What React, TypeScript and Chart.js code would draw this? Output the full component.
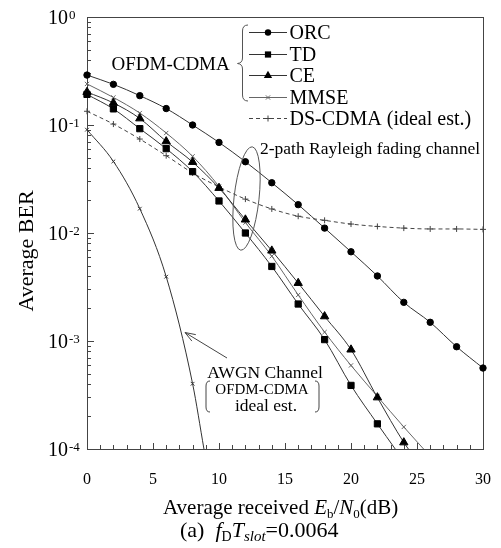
import React, { useEffect, useRef } from "react";
import { Chart, registerables } from "chart.js";

Chart.register(...registerables);

const SERIF = '"Liberation Serif", "Times New Roman", serif';

// ---- data (Eb/N0 in dB, BER) ----
const snrORC = [0, 2, 4, 6, 8, 10, 12, 14, 16, 18, 20, 22, 24, 26, 28, 30];
const berORC = [0.29, 0.238, 0.187, 0.142, 0.1, 0.069, 0.0457, 0.0292, 0.0183, 0.0111, 0.0067, 0.004, 0.00228, 0.00149, 0.000885, 0.000562];

const snrTD = [0, 2, 4, 6, 8, 10, 12, 14, 16, 18, 20, 22, 23.35];
const berTD = [0.192, 0.141, 0.0925, 0.0604, 0.037, 0.0198, 0.01, 0.0049, 0.0022, 0.00103, 0.000388, 0.000171, 0.0001];

const snrCE = [0, 2, 4, 6, 8, 10, 12, 14, 16, 18, 20, 22, 24, 24.35];
const berCE = [0.202, 0.16, 0.115, 0.0705, 0.0454, 0.0261, 0.0133, 0.00686, 0.00344, 0.00169, 0.000832, 0.0003, 0.000115, 0.0001];

const snrMMSE = [0, 2, 4, 6, 8, 10, 12, 14, 16, 18, 20, 22, 24, 25.5];
const berMMSE = [0.24, 0.18, 0.129, 0.0843, 0.0513, 0.027, 0.0125, 0.0061, 0.00267, 0.00121, 0.000594, 0.000307, 0.00016, 0.0001];

const snrDS = [0, 2, 4, 6, 8, 10, 12, 14, 16, 18, 20, 22, 24, 26, 28, 30];
const berDS = [0.134, 0.102, 0.0741, 0.052, 0.036, 0.0267, 0.0206, 0.0167, 0.0143, 0.0131, 0.0121, 0.0115, 0.0111, 0.0109, 0.0109, 0.0108];

const snrAWGN = [0, 2, 4, 6, 8, 8.86];
const berAWGN = [0.0905, 0.046, 0.0168, 0.00394, 0.000402, 0.0001];

const seriesLabels = ["ORC", "TD", "CE", "MMSE", "DS-CDMA (ideal est.)"];
const xTickLabels = [0, 5, 10, 15, 20, 25, 30];
const yDecades = [0, -1, -2, -3, -4];

const X_MIN = 0;
const X_MAX = 30;
const Y_MIN = 1e-4;
const Y_MAX = 1;

function pts(xs: number[], ys: number[]) {
  return xs.map((x, i) => ({ x, y: ys[i] }));
}

function drawMarker(ctx: CanvasRenderingContext2D, style: string, x: number, y: number, r: number, color: string) {
  ctx.save();
  ctx.fillStyle = color;
  ctx.strokeStyle = color;
  ctx.lineWidth = 1;
  ctx.beginPath();
  if (style === "circle") {
    ctx.arc(x, y, r, 0, Math.PI * 2);
    ctx.fill();
  } else if (style === "rect") {
    const s = r * Math.SQRT1_2;
    ctx.rect(x - s, y - s, 2 * s, 2 * s);
    ctx.fill();
  } else if (style === "triangle") {
    let a = 0;
    ctx.moveTo(x + Math.sin(a) * r, y - Math.cos(a) * r);
    a += (2 * Math.PI) / 3;
    ctx.lineTo(x + Math.sin(a) * r, y - Math.cos(a) * r);
    a += (2 * Math.PI) / 3;
    ctx.lineTo(x + Math.sin(a) * r, y - Math.cos(a) * r);
    ctx.closePath();
    ctx.fill();
  } else if (style === "crossRot") {
    const d = r * Math.SQRT1_2;
    ctx.moveTo(x - d, y - d);
    ctx.lineTo(x + d, y + d);
    ctx.moveTo(x - d, y + d);
    ctx.lineTo(x + d, y - d);
    ctx.stroke();
  } else if (style === "cross") {
    ctx.moveTo(x - r, y);
    ctx.lineTo(x + r, y);
    ctx.moveTo(x, y - r);
    ctx.lineTo(x, y + r);
    ctx.stroke();
  }
  ctx.restore();
}

type Run = { t: string; s: number; it?: boolean; dy?: number };
function drawRuns(ctx: CanvasRenderingContext2D, runs: Run[], x: number, y: number) {
  let cx = x;
  for (const r of runs) {
    ctx.font = `${r.it ? "italic " : ""}${r.s}px ${SERIF}`;
    ctx.fillText(r.t, cx, y + (r.dy || 0));
    cx += ctx.measureText(r.t).width;
  }
}

const decorPlugin = {
  id: "decor",
  beforeDatasetsDraw(chart: any) {
    const { ctx, chartArea: a, scales } = chart;
    const xs = scales.x;
    const ys = scales.y;
    ctx.save();
    ctx.strokeStyle = "#444";
    ctx.lineWidth = 1;
    ctx.strokeRect(Math.round(a.left) + 0.5, Math.round(a.top) + 0.5, Math.round(a.right - a.left), Math.round(a.bottom - a.top));
    // x ticks (inward)
    ctx.beginPath();
    for (let v = X_MIN; v <= X_MAX; v++) {
      const px = Math.round(xs.getPixelForValue(v)) + 0.5;
      const len = v % 5 === 0 ? 6 : 4;
      ctx.moveTo(px, a.bottom);
      ctx.lineTo(px, a.bottom - len);
    }
    // y ticks (inward)
    for (const d of yDecades) {
      for (let m = 1; m <= 9; m++) {
        const v = m * Math.pow(10, d);
        if (v > Y_MAX + 1e-12 || v < Y_MIN - 1e-12) continue;
        const py = Math.round(ys.getPixelForValue(v)) + 0.5;
        const len = m === 1 ? 7 : 4;
        ctx.moveTo(a.left, py);
        ctx.lineTo(a.left + len, py);
      }
    }
    ctx.stroke();
    ctx.restore();
  },
  afterDatasetsDraw(chart: any) {
    const { ctx, scales } = chart;
    const xs = scales.x;
    const ys = scales.y;
    ctx.save();
    ctx.fillStyle = "#000";
    ctx.textBaseline = "alphabetic";

    // x tick labels
    ctx.font = `16px ${SERIF}`;
    ctx.textAlign = "center";
    for (const v of xTickLabels) {
      ctx.fillText(String(v), xs.getPixelForValue(v), 484);
    }

    // y tick labels 10^d
    ctx.textAlign = "left";
    for (const d of yDecades) {
      const py = ys.getPixelForValue(Math.pow(10, d));
      ctx.font = `20px ${SERIF}`;
      ctx.fillText("10", 48, py + 7);
      const w = ctx.measureText("10").width;
      ctx.font = `13px ${SERIF}`;
      ctx.fillText(d === 0 ? "0" : String(d), 48 + w + 1, py + 1.5);
    }

    // axis titles
    ctx.textAlign = "left";
    drawRuns(ctx, [
      { t: "Average received ", s: 21 },
      { t: "E", s: 21, it: true },
      { t: "b", s: 13, dy: 4 },
      { t: "/", s: 21 },
      { t: "N", s: 21, it: true },
      { t: "0", s: 13, dy: 4 },
      { t: "(dB)", s: 21 },
    ], 163, 513.5);

    drawRuns(ctx, [
      { t: "(a)", s: 22 },
      { t: "  ", s: 22 },
      { t: "f", s: 22, it: true },
      { t: "D", s: 14, dy: 4 },
      { t: "T", s: 22, it: true },
      { t: "slot", s: 15, it: true, dy: 4 },
      { t: "=0.0064", s: 22 },
    ], 180, 537);

    ctx.save();
    ctx.translate(33, 251);
    ctx.rotate(-Math.PI / 2);
    ctx.textAlign = "center";
    ctx.font = `22px ${SERIF}`;
    ctx.fillText("Average BER", 0, 0);
    ctx.restore();

    // legend
    const rows = [32.3, 54.3, 75, 96.7, 118.3];
    chart.data.datasets.slice(0, 5).forEach((ds: any, i: number) => {
      const y = rows[i];
      ctx.save();
      ctx.strokeStyle = ds.borderColor;
      ctx.lineWidth = 1;
      ctx.setLineDash(ds.borderDash || []);
      ctx.beginPath();
      ctx.moveTo(249, Math.round(y) + 0.5);
      ctx.lineTo(287, Math.round(y) + 0.5);
      ctx.stroke();
      ctx.restore();
      drawMarker(ctx, ds.pointStyle, 268, Math.round(y) + 0.5, ds.legendRadius, ds.pointBorderColor);
      ctx.font = `20px ${SERIF}`;
      ctx.textAlign = "left";
      ctx.fillStyle = "#000";
      ctx.fillText(seriesLabels[i], 289.5, y + 6.8);
    });

    // brace for OFDM-CDMA group
    ctx.save();
    ctx.strokeStyle = "#555";
    ctx.lineWidth = 1;
    ctx.beginPath();
    ctx.moveTo(248, 25);
    ctx.quadraticCurveTo(242.5, 25, 242.5, 31);
    ctx.lineTo(242.5, 58);
    ctx.quadraticCurveTo(242.5, 63, 237.5, 63.5);
    ctx.quadraticCurveTo(242.5, 64, 242.5, 69);
    ctx.lineTo(242.5, 95);
    ctx.quadraticCurveTo(242.5, 101, 248, 101);
    ctx.stroke();
    ctx.restore();
    ctx.font = `19px ${SERIF}`;
    ctx.textAlign = "left";
    ctx.fillText("OFDM-CDMA", 111.5, 69.8);

    // Rayleigh annotation
    ctx.font = `17.5px ${SERIF}`;
    ctx.fillText("2-path Rayleigh fading channel", 260, 154);
    ctx.save();
    ctx.strokeStyle = "#555";
    ctx.lineWidth = 1;
    ctx.beginPath();
    ctx.ellipse(246.5, 198.5, 12.5, 52, 0.11, 0, Math.PI * 2);
    ctx.stroke();
    ctx.restore();

    // AWGN annotation
    ctx.font = `17.5px ${SERIF}`;
    ctx.textAlign = "center";
    ctx.fillText("AWGN Channel", 265, 378);
    ctx.font = `15px ${SERIF}`;
    ctx.fillText("OFDM-CDMA", 262, 393.5);
    ctx.font = `17.5px ${SERIF}`;
    ctx.fillText("ideal est.", 266, 411);
    ctx.save();
    ctx.strokeStyle = "#444";
    ctx.lineWidth = 1;
    ctx.beginPath();
    ctx.moveTo(210, 381);
    ctx.quadraticCurveTo(206, 381, 206, 386);
    ctx.lineTo(206, 407);
    ctx.quadraticCurveTo(206, 412, 210, 412);
    ctx.moveTo(315, 381);
    ctx.quadraticCurveTo(319, 381, 319, 386);
    ctx.lineTo(319, 407);
    ctx.quadraticCurveTo(319, 412, 315, 412);
    // arrow
    const tx = 185, ty = 332.5, fx = 227, fy = 358;
    ctx.moveTo(fx, fy);
    ctx.lineTo(tx, ty);
    const ang = Math.atan2(ty - fy, tx - fx);
    const hl = 11;
    ctx.moveTo(tx, ty);
    ctx.lineTo(tx - hl * Math.cos(ang - 0.35), ty - hl * Math.sin(ang - 0.35));
    ctx.moveTo(tx, ty);
    ctx.lineTo(tx - hl * Math.cos(ang + 0.35), ty - hl * Math.sin(ang + 0.35));
    ctx.stroke();
    ctx.restore();

    ctx.restore();
  },
};

function radiusFn(r: number) {
  return (c: any) => (c.raw && c.raw.y <= Y_MIN * 1.0001 ? 0 : r);
}

function makeDataset(label: string, xs: number[], ys: number[], style: string, r: number, color: string, markerColor: string, dash?: number[]) {
  return {
    label,
    data: pts(xs, ys),
    borderColor: color,
    borderWidth: 1,
    borderDash: dash || [],
    pointStyle: style,
    pointRadius: radiusFn(r),
    legendRadius: r,
    pointBackgroundColor: markerColor,
    pointBorderColor: markerColor,
    pointBorderWidth: 1,
    cubicInterpolationMode: "monotone",
    fill: false,
    clip: false,
  };
}

export default function App() {
  const ref = useRef<HTMLCanvasElement>(null);
  useEffect(() => {
    if (!ref.current) return;
    const chart = new Chart(ref.current, {
      type: "line",
      data: {
        datasets: [
          makeDataset("ORC", snrORC, berORC, "circle", 3.2, "#333", "#000"),
          makeDataset("TD", snrTD, berTD, "rect", 4.4, "#333", "#000"),
          makeDataset("CE", snrCE, berCE, "triangle", 4.8, "#333", "#000"),
          makeDataset("MMSE", snrMMSE, berMMSE, "crossRot", 3, "#666", "#666"),
          makeDataset("DS-CDMA (ideal est.)", snrDS, berDS, "cross", 3, "#444", "#444", [4, 3]),
          makeDataset("AWGN", snrAWGN, berAWGN, "crossRot", 2.6, "#333", "#333"),
        ] as any,
      },
      options: {
        animation: false,
        responsive: false,
        maintainAspectRatio: false,
        layout: { padding: { left: 87, right: 18, top: 17, bottom: 99 } },
        scales: {
          x: { type: "linear", min: X_MIN, max: X_MAX, display: false },
          y: { type: "logarithmic", min: Y_MIN, max: Y_MAX, display: false },
        },
        plugins: { legend: { display: false }, tooltip: { enabled: false } },
      },
      plugins: [decorPlugin as any],
    });
    return () => chart.destroy();
  }, []);
  return (
    <div style={{ position: "fixed", left: 0, top: 0, width: 501, height: 548, background: "#fff" }}>
      <canvas ref={ref} width={501} height={548} style={{ width: 501, height: 548, display: "block" }} />
    </div>
  );
}
